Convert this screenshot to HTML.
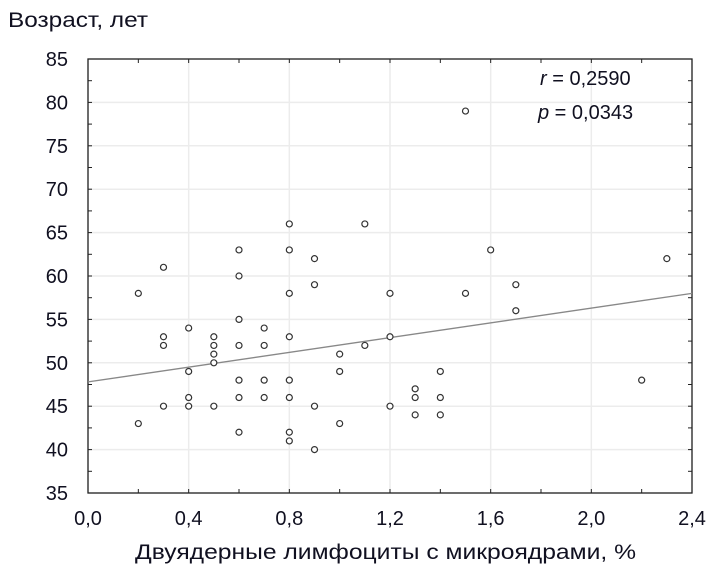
<!DOCTYPE html>
<html><head><meta charset="utf-8"><style>
body{margin:0;background:#fff;width:723px;height:567px;overflow:hidden}
text{font-family:"Liberation Sans",sans-serif;fill:#101020}
</style></head><body>
<svg id="chart" width="723" height="567" xmlns="http://www.w3.org/2000/svg"></svg>
<script>
const xs=[0.2,0.2,0.3,0.3,0.3,0.3,0.4,0.4,0.4,0.4,0.5,0.5,0.5,0.5,0.5,0.6,0.6,0.6,0.6,0.6,0.6,0.6,0.7,0.7,0.7,0.7,0.8,0.8,0.8,0.8,0.8,0.8,0.8,0.8,0.9,0.9,0.9,0.9,1.0,1.0,1.0,1.1,1.1,1.2,1.2,1.2,1.3,1.3,1.3,1.4,1.4,1.4,1.5,1.5,1.6,1.7,1.7,2.2,2.3];
const ys=[58,43,61,53,52,45,54,49,46,45,53,52,51,50,45,63,60,55,52,48,46,42,54,52,48,46,66,63,58,53,48,46,42,41,62,59,45,40,51,49,43,66,52,58,53,45,47,46,44,49,46,44,79,58,63,59,56,48,62];
const xTicks=[0,0.4,0.8,1.2,1.6,2.0,2.4];
const xTickLabels=["0,0","0,4","0,8","1,2","1,6","2,0","2,4"];
const yTicks=[35,40,45,50,55,60,65,70,75,80,85];
const regIntercept=47.8, regSlope=4.25;
const X0=88,X1=692,Y0=493,Y1=59;
const sx=v=>X0+(v-0)/(2.4)*(X1-X0);
const sy=v=>Y0-(v-35)/50*(Y0-Y1);
const svg=document.getElementById('chart');
const NS='http://www.w3.org/2000/svg';
function mk(tag,attrs,parent){const e=document.createElementNS(NS,tag);for(const k in attrs)e.setAttribute(k,attrs[k]);(parent||svg).appendChild(e);return e;}
yTicks.forEach(v=>{const l=mk('line',{x1:X0,x2:X1,y1:sy(v),y2:sy(v),stroke:'#ececec','stroke-width':1.5});

});
xTicks.forEach(v=>{const l=mk('line',{x1:sx(v),x2:sx(v),y1:Y1,y2:Y0,stroke:'#ececec','stroke-width':1.5});

});
const fr=mk('rect',{x:X0,y:Y1,width:X1-X0,height:Y0-Y1,fill:'none',stroke:'#222','stroke-width':1.3});


for(let v=35;v<=85;v+=2.5){mk('line',{x1:X0,x2:X0+4,y1:sy(v),y2:sy(v),stroke:'#222'});mk('line',{x1:X1,x2:X1-4,y1:sy(v),y2:sy(v),stroke:'#222'});}
for(let v=0;v<=2.4001;v+=0.2){mk('line',{x1:sx(v),x2:sx(v),y1:Y0,y2:Y0-4,stroke:'#222'});mk('line',{x1:sx(v),x2:sx(v),y1:Y1,y2:Y1+4,stroke:'#222'});}
yTicks.forEach(v=>{const t=mk('text',{x:68,y:sy(v)+7,'text-anchor':'end','font-size':20});t.textContent=String(v);

});
xTicks.forEach((v,i)=>{const t=mk('text',{x:sx(v),y:525,'text-anchor':'middle','font-size':20});t.textContent=xTickLabels[i];

});
const rl=mk('line',{x1:sx(0),y1:sy(regIntercept),x2:sx(2.4),y2:sy(regIntercept+regSlope*2.4),stroke:'#888','stroke-width':1.3});


xs.forEach((x,i)=>{const c=mk('circle',{cx:sx(x),cy:sy(ys[i]),r:3,fill:'#fff',stroke:'#333','stroke-width':1.2});

});
</script>
<svg style="position:absolute;left:0;top:0" width="723" height="567">
<text x="8" y="27" font-size="21" textLength="140" lengthAdjust="spacingAndGlyphs">Возраст,  лет</text>
<text x="135" y="559" font-size="21" textLength="501" lengthAdjust="spacingAndGlyphs">Двуядерные лимфоциты с микроядрами, %</text>
<text x="540" y="85" font-size="20"><tspan font-style="italic">r</tspan> = 0,2590</text>
<text x="538" y="119" font-size="20"><tspan font-style="italic">p</tspan> = 0,0343</text>
</svg>
</body></html>
